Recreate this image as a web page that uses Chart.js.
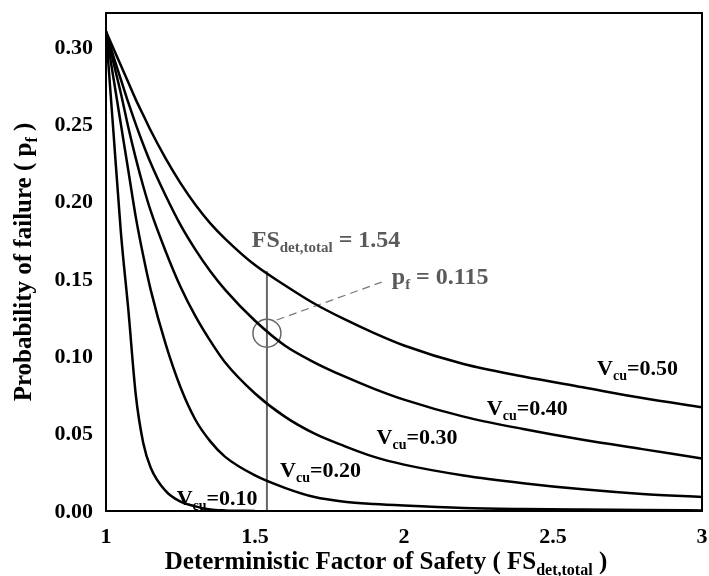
<!DOCTYPE html>
<html>
<head>
<meta charset="utf-8">
<title>Probability of failure vs FS</title>
<script src="https://cdn.jsdelivr.net/npm/chart.js@4.4.1/dist/chart.umd.min.js"></script>
<style>
  html, body { margin: 0; padding: 0; background: #fff; }
  #wrap { width: 709px; height: 576px; }
</style>
</head>
<body>
<div id="wrap"><canvas id="pfChart" width="709" height="576"></canvas></div>
<script>
// deterministic factor of safety (x)
const fsValues = [1.0, 1.025, 1.05, 1.075, 1.1, 1.125, 1.15, 1.2, 1.25, 1.3, 1.35, 1.4, 1.5,
                  1.6, 1.7, 1.8, 1.9, 2.0, 2.2, 2.4, 2.6, 2.8, 3.0];

// probability of failure, one list per Vcu (null = curve not drawn there)
const pfV10 = [0.31, 0.245, 0.18, 0.13, 0.075, 0.044, 0.028, 0.013, 0.006, 0.003, 0.001, 0.0004, 0.0,
               null, null, null, null, null, null, null, null, null, null];
const pfV20 = [0.31, 0.28, 0.25, 0.22, 0.19, 0.165, 0.143, 0.108, 0.08, 0.059, 0.045, 0.035, 0.023,
               0.015, 0.009, 0.006, 0.0045, 0.0035, 0.002, 0.0013, 0.0009, 0.0006, 0.0004];
const pfV30 = [0.31, 0.29, 0.27, 0.248, 0.228, 0.21, 0.194, 0.168, 0.145, 0.126, 0.11, 0.096, 0.076,
               0.061, 0.05, 0.042, 0.035, 0.03, 0.023, 0.018, 0.014, 0.011, 0.009];
const pfV40 = [0.31, 0.294, 0.279, 0.264, 0.25, 0.237, 0.225, 0.204, 0.185, 0.169, 0.155, 0.143, 0.123,
               0.107, 0.096, 0.087, 0.079, 0.072, 0.061, 0.053, 0.046, 0.04, 0.034];
const pfV50 = [0.31, 0.299, 0.288, 0.277, 0.266, 0.256, 0.246, 0.228, 0.212, 0.198, 0.186, 0.176, 0.159,
               0.146, 0.134, 0.124, 0.115, 0.107, 0.095, 0.087, 0.08, 0.073, 0.067];

const vcuNames = ['0.10', '0.20', '0.30', '0.40', '0.50'];
const pfSeries = [pfV10, pfV20, pfV30, pfV40, pfV50];

const xTicks = [1, 1.5, 2, 2.5, 3];
const yTicks = [0, 0.05, 0.10, 0.15, 0.20, 0.25, 0.30];

// highlighted design point
const markFs = 1.54;
const markPf = 0.115;
const markTop = 0.155;

// label anchors (data units, left / baseline)
const curveLabelPos = [[1.237, 0.004], [1.584, 0.022], [1.908, 0.043], [2.278, 0.062], [2.648, 0.088]];
const leaderFrom = [1.573, 0.1235];
const leaderTo = [1.925, 0.148];

const FONT = '"Liberation Serif", "Times New Roman", serif';
const GREY = '#5a5a5a';

function toPoints(xs, ys) {
    const pts = [];
    xs.forEach((x, i) => {
        if (ys[i] !== null) pts.push({ x: x, y: ys[i] });
    });
    return pts;
}

// draw text made of [string, isSubscript] parts
function richWidth(ctx, parts, size) {
    let w = 0;
    parts.forEach(([t, sub]) => {
        ctx.font = `bold ${sub ? Math.round(size * 0.64) : size}px ${FONT}`;
        w += ctx.measureText(t).width;
    });
    return w;
}
function drawRich(ctx, parts, x, y, size, color) {
    let cx = x;
    ctx.fillStyle = color;
    ctx.textBaseline = 'alphabetic';
    ctx.textAlign = 'left';
    parts.forEach(([t, sub]) => {
        ctx.font = `bold ${sub ? Math.round(size * 0.64) : size}px ${FONT}`;
        ctx.fillText(t, cx, sub ? y + size * 0.22 : y);
        cx += ctx.measureText(t).width;
    });
}

const annotate = {
    id: 'annotate',
    afterDatasetsDraw(chart) {
        const { ctx, chartArea: a, scales: { x, y } } = chart;
        ctx.save();

        // plot frame
        ctx.strokeStyle = '#000';
        ctx.lineWidth = 2;
        ctx.strokeRect(a.left, a.top, a.right - a.left, a.bottom - a.top);

        // tick labels, placed with the scales
        ctx.fillStyle = '#000';
        ctx.font = `bold 22px ${FONT}`;
        ctx.textAlign = 'right';
        ctx.textBaseline = 'middle';
        yTicks.forEach(v => ctx.fillText(v.toFixed(2), a.left - 13, y.getPixelForValue(v) + 1));
        ctx.textAlign = 'center';
        ctx.textBaseline = 'alphabetic';
        xTicks.forEach(v => ctx.fillText(String(v), x.getPixelForValue(v), a.bottom + 32));

        // curve labels
        pfSeries.forEach((s, i) => {
            const [lx, ly] = curveLabelPos[i];
            drawRich(ctx, [['V', false], ['cu', true], ['=' + vcuNames[i], false]],
                x.getPixelForValue(lx), y.getPixelForValue(ly), 22, '#000');
        });

        // FS and pf callouts
        drawRich(ctx, [['FS', false], ['det,total', true], [' = ' + markFs.toFixed(2), false]],
            x.getPixelForValue(1.489), y.getPixelForValue(0.171), 24, GREY);
        drawRich(ctx, [['p', false], ['f', true], [' = ' + markPf.toFixed(3), false]],
            x.getPixelForValue(1.959), y.getPixelForValue(0.147), 24, GREY);

        // axis titles
        const xt = [['Deterministic Factor of Safety ( FS', false], ['det,total', true], [' )', false]];
        const xw = richWidth(ctx, xt, 25);
        drawRich(ctx, xt, 386 - xw / 2, 569, 25, '#000');

        const yt = [['Probability of failure ( p', false], ['f', true], [' )', false]];
        const yw = richWidth(ctx, yt, 25);
        ctx.translate(31, 262);
        ctx.rotate(-Math.PI / 2);
        drawRich(ctx, yt, -yw / 2, 0, 25, '#000');

        ctx.restore();
    }
};

const curveSets = pfSeries.map((s, i) => ({
    label: 'Vcu=' + vcuNames[i],
    data: toPoints(fsValues, s),
    borderColor: '#000',
    borderWidth: 2.5,
    pointRadius: 0,
    cubicInterpolationMode: 'monotone',
    fill: false
}));

const markSets = [
    {
        label: 'FS line',
        data: [{ x: markFs, y: 0 }, { x: markFs, y: markTop }],
        borderColor: '#666',
        borderWidth: 2,
        pointRadius: 0
    },
    {
        label: 'leader',
        data: [{ x: leaderFrom[0], y: leaderFrom[1] }, { x: leaderTo[0], y: leaderTo[1] }],
        borderColor: '#777',
        borderWidth: 1.2,
        borderDash: [8, 5],
        pointRadius: 0
    },
    {
        label: 'mark',
        data: [{ x: markFs, y: markPf }],
        showLine: false,
        pointRadius: 14,
        pointBorderWidth: 1.5,
        pointBorderColor: '#666',
        pointBackgroundColor: 'rgba(0,0,0,0)'
    }
];

new Chart(document.getElementById('pfChart'), {
    type: 'line',
    data: { datasets: curveSets.concat(markSets) },
    options: {
        responsive: false,
        animation: false,
        // the big marker circle would otherwise push the plot inwards
        layout: { autoPadding: false, padding: { top: 13, right: 7, left: 0, bottom: 0 } },
        plugins: {
            legend: { display: false },
            tooltip: { enabled: false }
        },
        scales: {
            x: {
                type: 'linear',
                min: 1,
                max: 3,
                grid: { display: false, drawTicks: false },
                border: { display: false },
                ticks: { display: false },
                afterFit: s => { s.height = 65; }
            },
            y: {
                min: 0,
                max: 0.322,
                grid: { display: false, drawTicks: false },
                border: { display: false },
                ticks: { display: false },
                afterFit: s => { s.width = 106; }
            }
        }
    },
    plugins: [annotate]
});
</script>
</body>
</html>
